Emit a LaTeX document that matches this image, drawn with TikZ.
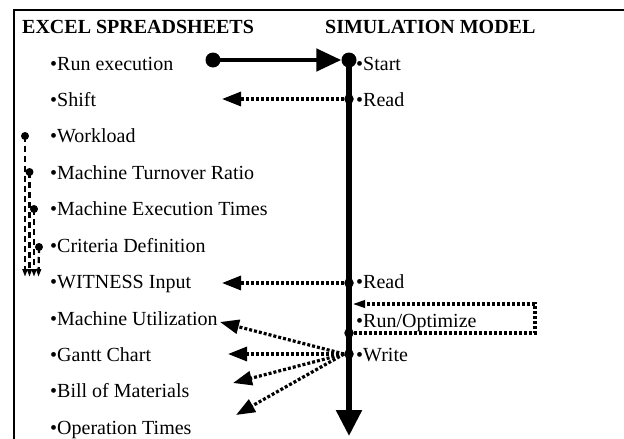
\documentclass[tikz,border=0pt]{standalone}
\usepackage{fontspec}
\setmainfont{Liberation Serif}
\usetikzlibrary{arrows.meta}
\begin{document}
\begin{tikzpicture}[x=1pt,y=-1pt,
  item/.style={anchor=base west,inner sep=0pt,font=\fontsize{20}{24}\selectfont},
  ttl/.style={anchor=base west,inner sep=0pt,font=\fontsize{20}{24}\selectfont\bfseries},
  bigdot/.style={circle,fill=black,inner sep=0pt,minimum size=15pt},
  middot/.style={circle,fill=black,inner sep=0pt,minimum size=9.5pt},
  smalldot/.style={circle,fill=black,inner sep=0pt,minimum size=8pt},
  dotline/.style={line width=3.2pt,dash pattern=on 3pt off 2pt},
  dashline/.style={line width=2.3pt,dash pattern=on 6pt off 4pt},
  bigtip/.style={-{Triangle[length=19pt,width=14pt]}},
  ]
\useasboundingbox (0,0) rectangle (624,439);
% frame
\coordinate (fbl) at (14,439);
\coordinate (ftl) at (14,10);
\coordinate (ftr) at (624,10);
\draw[line width=2.8pt] (fbl) -- (ftl) -- (ftr);
% headings
\node[ttl] (h1) at (22,34) {EXCEL SPREADSHEETS};
\node[ttl] (h2) at (325,34) {SIMULATION MODEL};
% left items
\node[item] (l1) at (50,70.5) {•Run execution};
\node[item] (l2) at (50,106.5) {•Shift};
\node[item] (l3) at (50,142.5) {•Workload};
\node[item] (l4) at (50,179) {•Machine Turnover Ratio};
\node[item] (l5) at (50,215.5) {•Machine Execution Times};
\node[item] (l6) at (50,252) {•Criteria Definition};
\node[item] (l7) at (50,288.5) {•WITNESS Input};
\node[item] (l8) at (50,325) {•Machine Utilization};
\node[item] (l9) at (50,361) {•Gantt Chart};
\node[item] (l10) at (50,397.5) {•Bill of Materials};
\node[item] (l11) at (50,434) {•Operation Times};
% right items
\node[item] (r1) at (356,70.5) {•Start};
\node[item] (r2) at (356,106.5) {•Read};
\node[item] (r3) at (356,288.5) {•Read};
\node[item] (r4) at (356,327) {•Run/Optimize};
\node[item] (r5) at (356,361) {•Write};
% main timeline
\node[bigdot] (start) at (349,60) {};
\coordinate (mend) at (349,436);
\draw[line width=5.5pt,-{Triangle[length=26pt,width=25pt]}] (start.center) -- (mend);
% run execution arrow
\node[bigdot] (rdot) at (213,60) {};
\draw[line width=4.8pt,-{Triangle[length=25pt,width=22pt]}] (rdot.center) -- (start.west);
% read 1
\node[middot] (read1) at (349,99) {};
\coordinate (shiftT) at (222,99);
\draw[dotline,bigtip] (read1.west) -- (shiftT);
% read 2
\node[middot] (read2) at (349,283) {};
\coordinate (witT) at (222,283);
\draw[dotline,bigtip] (read2.west) -- (witT);
% run/optimize loop
\node[middot] (optd) at (349,333) {};
\coordinate (oc1) at (535,333);
\coordinate (oc2) at (535,304);
\coordinate (oT) at (352,304);
\draw[dotline,-{Triangle[length=13pt,width=7pt]}] (optd.center) -- (oc1) -- (oc2) -- (oT);
% write
\node[middot] (wdot) at (349,354) {};
\coordinate (w1) at (220,322);
\coordinate (w2) at (228,354);
\coordinate (w3) at (233,383);
\coordinate (w4) at (236,415);
\draw[dotline,bigtip] (wdot.west) -- (w1);
\draw[dotline,bigtip] (wdot.west) -- (w2);
\draw[dotline,bigtip] (wdot.west) -- (w3);
\draw[dotline,bigtip] (wdot.west) -- (w4);
% left dashed feed lines
\node[smalldot] (d1) at (25,136) {};
\node[smalldot] (d2) at (29.5,172) {};
\node[smalldot] (d3) at (34,209) {};
\node[smalldot] (d4) at (39,247) {};
\coordinate (e1) at (25,277);
\coordinate (e2) at (29.5,277);
\coordinate (e3) at (34,277);
\coordinate (e4) at (38.5,277);
\foreach \i in {1,2,3,4}{
  \draw[dashline,-{Triangle[length=8pt,width=5pt]}] (d\i.center) -- (e\i);
}
\end{tikzpicture}
\end{document}
